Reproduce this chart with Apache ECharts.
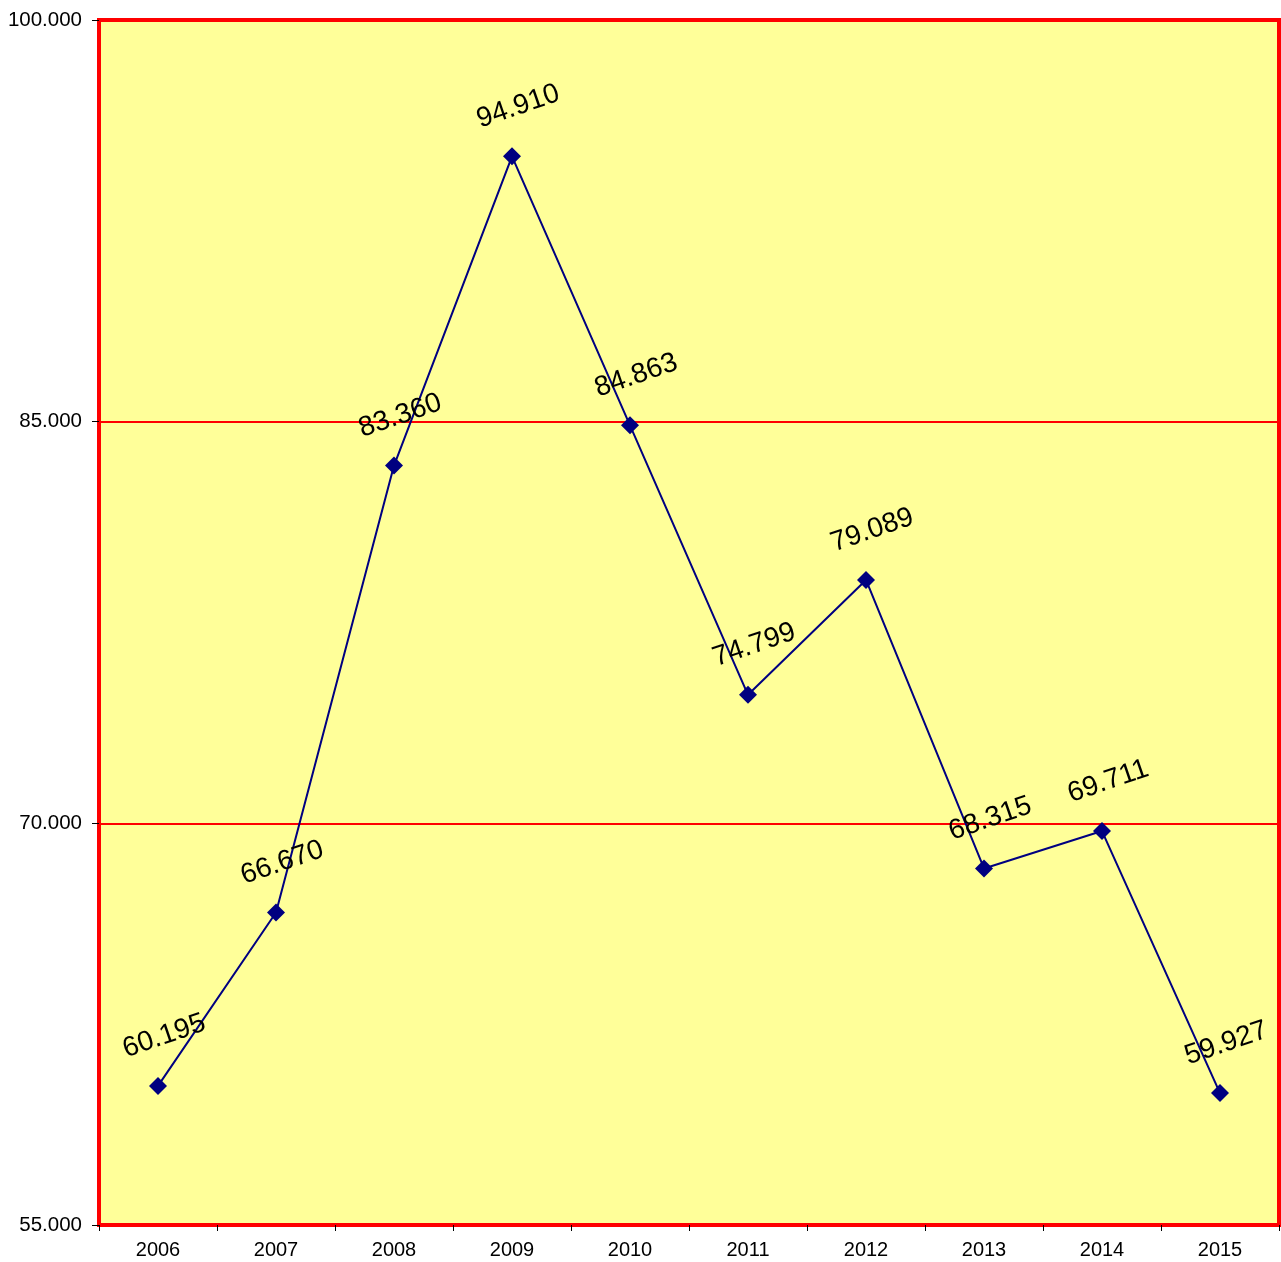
<!DOCTYPE html>
<html>
<head>
<meta charset="utf-8">
<script src="https://cdn.jsdelivr.net/npm/echarts@6/dist/echarts.min.js"></script>
<style>
html,body{margin:0;padding:0;background:#fff;}
#chart{width:1281px;height:1262px;}
</style>
</head>
<body>
<div id="chart"></div>
<script>
const categories = ['2006','2007','2008','2009','2010','2011','2012','2013','2014','2015'];
const values = [60.195, 66.670, 83.360, 94.910, 84.863, 74.799, 79.089, 68.315, 69.711, 59.927];
const yTicks = [55, 70, 85, 100];

const chart = echarts.init(document.getElementById('chart'));
chart.setOption({
  animation: false,
  grid: {
    left: 99, right: 2, top: 20, bottom: 37,
    show: true, backgroundColor: '#FFFF99', borderColor: '#FF0000', borderWidth: 4
  },
  xAxis: {
    type: 'category',
    data: categories,
    boundaryGap: true,
    axisLine: { show: true, lineStyle: { color: '#FF0000', width: 4 } },
    axisTick: { show: true, inside: false, length: 6, alignWithLabel: false, lineStyle: { color: '#000', width: 1 } },
    axisLabel: { color: '#000', fontFamily: 'Arial, Liberation Sans', fontSize: 20, margin: 15 },
    splitLine: { show: false }
  },
  yAxis: {
    type: 'value',
    min: yTicks[0], max: yTicks[yTicks.length - 1], interval: 15,
    axisLine: { show: true, lineStyle: { color: '#FF0000', width: 4 } },
    axisTick: { show: true, length: 7, lineStyle: { color: '#000', width: 1 } },
    axisLabel: { color: '#000', fontFamily: 'Arial, Liberation Sans', fontSize: 20.5, margin: 17,
      formatter: v => v.toFixed(3) },
    splitLine: { show: true, lineStyle: { color: '#FF0000', width: 2 } }
  },
  series: [{
    type: 'line',
    data: values,
    symbol: 'diamond',
    symbolSize: 18,
    lineStyle: { color: '#000080', width: 2 },
    itemStyle: { color: '#000080' },
    label: {
      show: true,
      position: 'inside',
      offset: [22, -45],
      align: 'center',
      verticalAlign: 'middle',
      rotate: 19,
      color: '#000',
      fontFamily: 'Arial, Liberation Sans',
      fontSize: 28,
      formatter: p => p.value.toFixed(3)
    }
  }]
});
</script>
</body>
</html>
